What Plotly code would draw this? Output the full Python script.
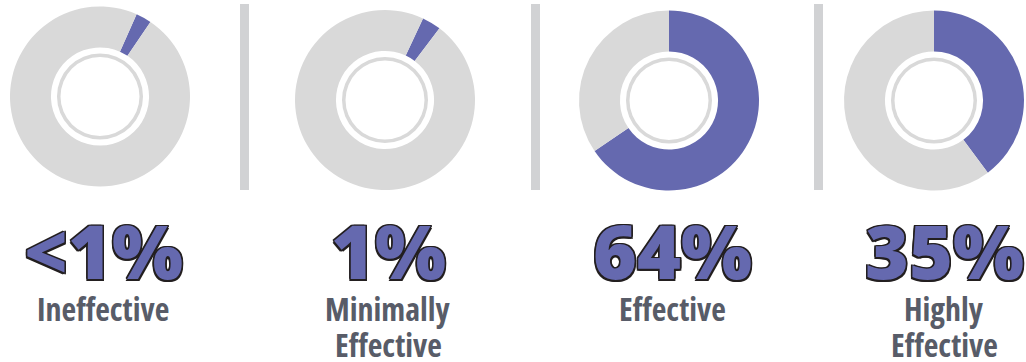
import plotly.graph_objects as go

# ---- data ----
categories = ["Ineffective", "Minimally<br>Effective", "Effective", "Highly<br>Effective"]
pct_labels = ["<1%", "1%", "64%", "35%"]
arc_share = [2.8, 3.4, 65.5, 39.8]      # purple share of each ring as drawn (%)
arc_start = [24, 25, 0, 0]              # start angle of the purple arc (deg, clockwise from top)

# ---- styling ----
W, H = 1026, 362
PURPLE = "#6569af"
GRAY = "#d9d9d9"
SEP = "#d1d2d4"
LABEL = "#585c68"
OUTLINE = "#231f20"

centers_x = [100, 385, 669, 934]
centers_y = [96.5, 100, 100.5, 100.5]
text_x = [103, 388, 672, 944]
R = 90
R_ring = 43
sep_x = [244.5, 535.5, 818.5]

def px_dom(cx, cy, r):
    return dict(x=[(cx - r) / W, (cx + r) / W], y=[1 - (cy + r) / H, 1 - (cy - r) / H])

fig = go.Figure()
for i, share in enumerate(arc_share):
    fig.add_trace(go.Pie(
        values=[share, 100 - share],
        marker=dict(colors=[PURPLE, GRAY], line=dict(width=0)),
        hole=0.545, sort=False, direction="clockwise", rotation=arc_start[i],
        textinfo="none", hoverinfo="skip", showlegend=False,
        domain=px_dom(centers_x[i], centers_y[i], R),
    ))
    fig.add_trace(go.Pie(
        values=[1], marker=dict(colors=[GRAY], line=dict(width=0)),
        hole=(R_ring - 3.5) / R_ring, sort=False, textinfo="none",
        hoverinfo="skip", showlegend=False,
        domain=px_dom(centers_x[i], centers_y[i], R_ring),
    ))

o = 1.5
shadow = ", ".join(f"{dx}px {dy}px 0 {OUTLINE}" for dx, dy in
                   [(-o, 0), (o, 0), (0, -o), (0, o), (-o, -o), (o, -o), (-o, o), (o, o)])

annotations = []
for i, (pct, cat) in enumerate(zip(pct_labels, categories)):
    xc = text_x[i] / W
    annotations.append(dict(
        x=xc, y=1 - 250 / H, xref="paper", yref="paper", xanchor="center", yanchor="middle",
        text=pct, showarrow=False,
        font=dict(family="'Noto Sans', Lato, sans-serif",
                  size=75, weight=900, color=PURPLE, shadow=shadow),
    ))
    for j, line in enumerate(cat.split("<br>")):
        annotations.append(dict(
            x=xc, y=1 - (308 + 36.5 * j) / H, xref="paper", yref="paper",
            xanchor="center", yanchor="middle",
            text=f'<span style="font-stretch:75%">{line}</span>', showarrow=False,
            font=dict(family="'Open Sans', sans-serif", size=32, weight="bold", color=LABEL),
        ))

shapes = [dict(type="rect", xref="paper", yref="paper",
               x0=(sx - 4.5) / W, x1=(sx + 4.5) / W, y0=1 - 190 / H, y1=1 - 4 / H,
               fillcolor=SEP, line=dict(width=0), layer="below") for sx in sep_x]

fig.update_layout(
    width=W, height=H, margin=dict(l=0, r=0, t=0, b=0),
    paper_bgcolor="white", plot_bgcolor="white",
    annotations=annotations, shapes=shapes,
)
fig.write_html("out.html", config={"displayModeBar": False},
               post_script="document.body.style.margin='0';document.body.style.overflow='hidden';")
